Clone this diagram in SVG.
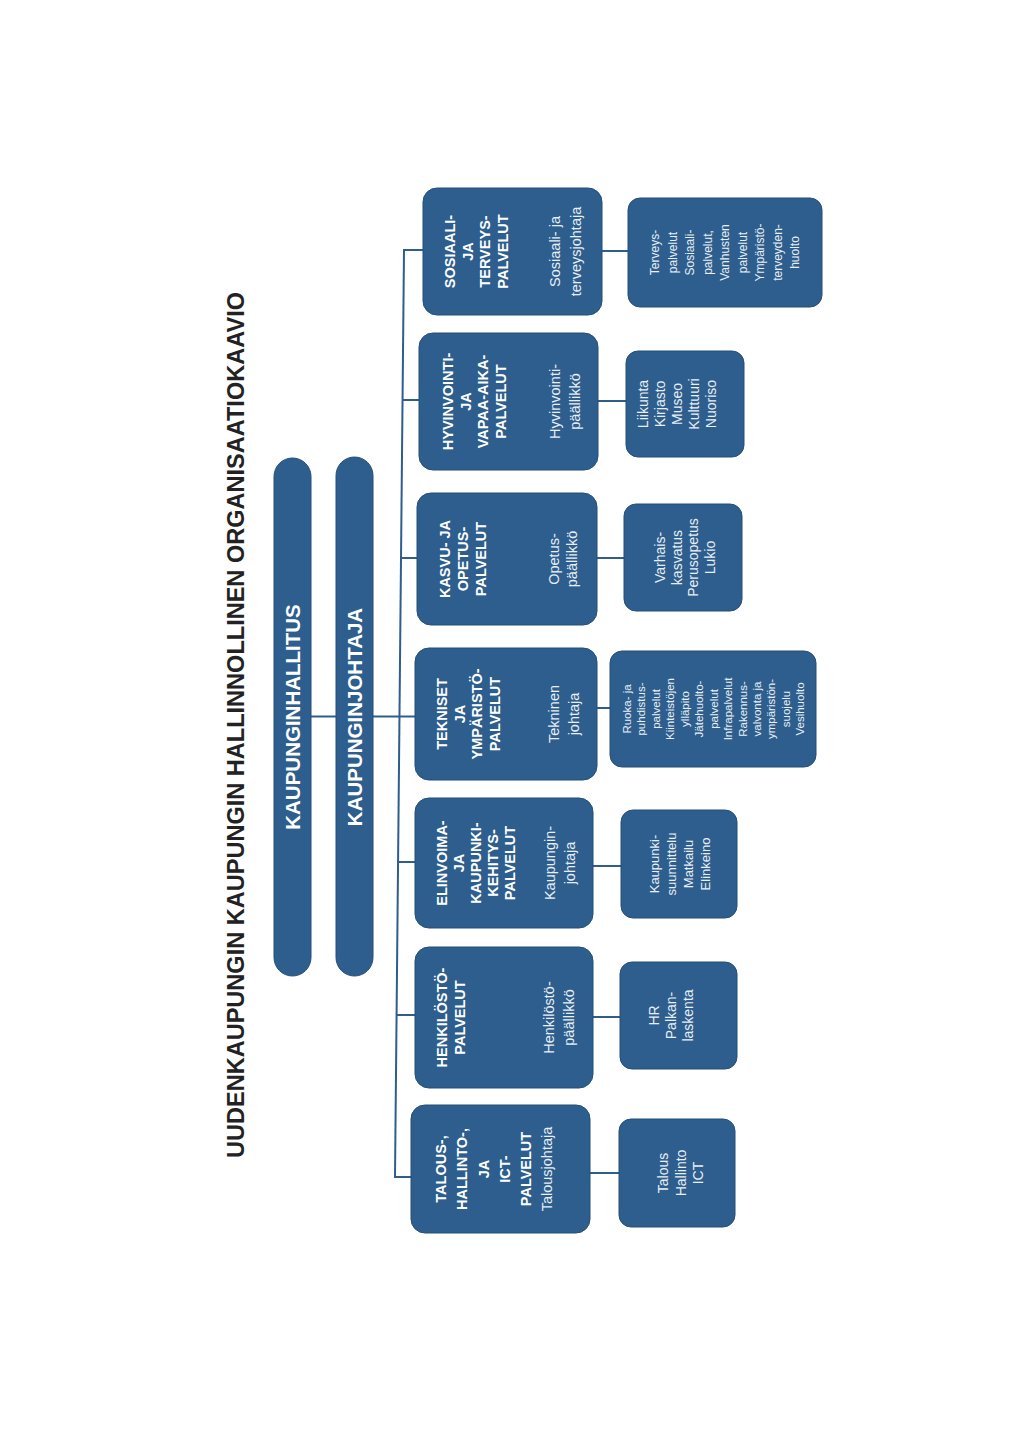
<svg xmlns="http://www.w3.org/2000/svg" width="1024" height="1448" viewBox="0 0 1024 1448">
<style>
.box{fill:#2d5e8e;stroke:#254f78;stroke-width:1}
.ln{stroke:#2d5e8e;stroke-width:2;fill:none}
.t{font-family:"Liberation Sans",Arial,sans-serif;text-anchor:middle}
.b{font-weight:bold;fill:#ffffff;font-size:14.5px}
.r{fill:#e9eef4;font-size:14.5px}
.bar{font-weight:bold;fill:#ffffff;font-size:20.5px}
.title{font-weight:bold;fill:#222222;font-size:23px}
</style>
<rect width="1024" height="1448" fill="#ffffff"/>
<g id="title">
<text class="t title" transform="translate(244,725) rotate(-90)" textLength="866" lengthAdjust="spacingAndGlyphs">UUDENKAUPUNGIN KAUPUNGIN HALLINNOLLINEN ORGANISAATIOKAAVIO</text>
</g>
<g id="connectors">
<line class="ln" x1="404" y1="250" x2="395" y2="1177"/>
<line class="ln" x1="403" y1="250" x2="423" y2="250"/>
<line class="ln" x1="402" y1="400" x2="419" y2="400"/>
<line class="ln" x1="400" y1="558" x2="417" y2="558"/>
<line class="ln" x1="311" y1="716.5" x2="415" y2="716.5"/>
<line class="ln" x1="397" y1="862" x2="415" y2="862"/>
<line class="ln" x1="396" y1="1015" x2="415" y2="1015"/>
<line class="ln" x1="394" y1="1177" x2="411" y2="1177"/>
<line class="ln" x1="602" y1="251" x2="628" y2="251"/>
<line class="ln" x1="598" y1="401" x2="626" y2="401"/>
<line class="ln" x1="597" y1="558" x2="624" y2="558"/>
<line class="ln" x1="597" y1="708" x2="610" y2="708"/>
<line class="ln" x1="593" y1="866" x2="621" y2="866"/>
<line class="ln" x1="593" y1="1017" x2="620" y2="1017"/>
<line class="ln" x1="590" y1="1173" x2="619" y2="1173"/>
</g>
<g id="kaupunginhallitus">
<rect class="box" x="274" y="458" width="37" height="518" rx="18.5"/>
<text class="t bar" transform="translate(300,717) rotate(-90)">KAUPUNGINHALLITUS</text>
</g>
<g id="kaupunginjohtaja">
<rect class="box" x="336" y="457" width="37" height="519" rx="18.5"/>
<text class="t bar" transform="translate(362,717) rotate(-90)">KAUPUNGINJOHTAJA</text>
</g>
<g id="sosiaali">
<rect class="box" x="423" y="188" width="179" height="127" rx="14"/>
<text class="t b" transform="translate(455,251.5) rotate(-90)"><tspan x="0" y="0">SOSIAALI-</tspan><tspan x="0" dy="17.5">JA</tspan><tspan x="0" dy="17.5">TERVEYS-</tspan><tspan x="0" dy="17.5">PALVELUT</tspan></text>
<text class="t r" transform="translate(560,251.5) rotate(-90)"><tspan x="0" y="0">Sosiaali- ja</tspan><tspan x="0" dy="21">terveysjohtaja</tspan></text>
</g>
<g id="hyvinvointi">
<rect class="box" x="419" y="333" width="179" height="137" rx="14"/>
<text class="t b" transform="translate(453,401.5) rotate(-90)"><tspan x="0" y="0">HYVINVOINTI-</tspan><tspan x="0" dy="17.5">JA</tspan><tspan x="0" dy="17.5">VAPAA-AIKA-</tspan><tspan x="0" dy="17.5">PALVELUT</tspan></text>
<text class="t r" transform="translate(560,401.5) rotate(-90)"><tspan x="0" y="0">Hyvinvointi-</tspan><tspan x="0" dy="20">päällikkö</tspan></text>
</g>
<g id="kasvu">
<rect class="box" x="417" y="493" width="180" height="132" rx="14"/>
<text class="t b" transform="translate(450,559) rotate(-90)"><tspan x="0" y="0">KASVU- JA</tspan><tspan x="0" dy="18">OPETUS-</tspan><tspan x="0" dy="18">PALVELUT</tspan></text>
<text class="t r" transform="translate(559,559) rotate(-90)"><tspan x="0" y="0">Opetus-</tspan><tspan x="0" dy="18">päällikkö</tspan></text>
</g>
<g id="tekniset">
<rect class="box" x="415" y="648" width="182" height="132" rx="14"/>
<text class="t b" transform="translate(447,714) rotate(-90)"><tspan x="0" y="0">TEKNISET</tspan><tspan x="0" dy="17.7">JA</tspan><tspan x="0" dy="17.7">YMPÄRISTÖ-</tspan><tspan x="0" dy="17.7">PALVELUT</tspan></text>
<text class="t r" transform="translate(559,714) rotate(-90)"><tspan x="0" y="0">Tekninen</tspan><tspan x="0" dy="20">johtaja</tspan></text>
</g>
<g id="elinvoima">
<rect class="box" x="415" y="798" width="178" height="130" rx="14"/>
<text class="t b" transform="translate(447,863) rotate(-90)"><tspan x="0" y="0">ELINVOIMA-</tspan><tspan x="0" dy="17">JA</tspan><tspan x="0" dy="17">KAUPUNKI-</tspan><tspan x="0" dy="17">KEHITYS-</tspan><tspan x="0" dy="17">PALVELUT</tspan></text>
<text class="t r" transform="translate(555,863) rotate(-90)"><tspan x="0" y="0">Kaupungin-</tspan><tspan x="0" dy="20">johtaja</tspan></text>
</g>
<g id="henkilosto">
<rect class="box" x="415" y="947" width="178" height="141" rx="14"/>
<text class="t b" transform="translate(447,1017.5) rotate(-90)"><tspan x="0" y="0">HENKILÖSTÖ-</tspan><tspan x="0" dy="18">PALVELUT</tspan></text>
<text class="t r" transform="translate(554,1017.5) rotate(-90)"><tspan x="0" y="0">Henkilöstö-</tspan><tspan x="0" dy="20">päällikkö</tspan></text>
</g>
<g id="talous">
<rect class="box" x="411" y="1105" width="179" height="128" rx="14"/>
<text class="t b" transform="translate(446,1169) rotate(-90)"><tspan x="0" y="0">TALOUS-,</tspan><tspan x="0" dy="21.3">HALLINTO-,</tspan><tspan x="0" dy="21.3">JA</tspan><tspan x="0" dy="21.3">ICT-</tspan><tspan x="0" dy="21.3">PALVELUT</tspan></text>
<text class="t r" transform="translate(552,1169) rotate(-90)">Talousjohtaja</text>
</g>
<g id="sosiaali-tehtavat">
<rect class="box" x="628" y="198" width="194" height="109" rx="12"/>
<text class="t r" style="font-size:12px" transform="translate(659,252.5) rotate(-90)"><tspan x="0" y="0">Terveys-</tspan><tspan x="0" dy="17.5">palvelut</tspan><tspan x="0" dy="17.5">Sosiaali-</tspan><tspan x="0" dy="17.5">palvelut,</tspan><tspan x="0" dy="17.5">Vanhusten</tspan><tspan x="0" dy="17.5">palvelut</tspan><tspan x="0" dy="17.5">Ympäristö-</tspan><tspan x="0" dy="17.5">terveyden-</tspan><tspan x="0" dy="17.5">huolto</tspan></text>
</g>
<g id="hyvinvointi-tehtavat">
<rect class="box" x="626" y="351" width="118" height="106" rx="12"/>
<text class="t r" style="font-size:14px" transform="translate(648,404) rotate(-90)"><tspan x="0" y="0">Liikunta</tspan><tspan x="0" dy="17">Kirjasto</tspan><tspan x="0" dy="17">Museo</tspan><tspan x="0" dy="17">Kulttuuri</tspan><tspan x="0" dy="17">Nuoriso</tspan></text>
</g>
<g id="kasvu-tehtavat">
<rect class="box" x="624" y="504" width="118" height="107" rx="12"/>
<text class="t r" style="font-size:14px" transform="translate(665,557.5) rotate(-90)"><tspan x="0" y="0">Varhais-</tspan><tspan x="0" dy="16.7">kasvatus</tspan><tspan x="0" dy="16.7">Perusopetus</tspan><tspan x="0" dy="16.7">Lukio</tspan></text>
</g>
<g id="tekniset-tehtavat">
<rect class="box" x="610" y="651" width="206" height="116" rx="12"/>
<text class="t r" style="font-size:11.5px" transform="translate(631,709) rotate(-90)"><tspan x="0" y="0">Ruoka- ja</tspan><tspan x="0" dy="14.45">puhdistus-</tspan><tspan x="0" dy="14.45">palvelut</tspan><tspan x="0" dy="14.45">Kiinteistöjen</tspan><tspan x="0" dy="14.45">ylläpito</tspan><tspan x="0" dy="14.45">Jätehuolto-</tspan><tspan x="0" dy="14.45">palvelut</tspan><tspan x="0" dy="14.45">Infrapalvelut</tspan><tspan x="0" dy="14.45">Rakennus-</tspan><tspan x="0" dy="14.45">valvonta ja</tspan><tspan x="0" dy="14.45">ympäristön-</tspan><tspan x="0" dy="14.45">suojelu</tspan><tspan x="0" dy="14.45">Vesihuolto</tspan></text>
</g>
<g id="elinvoima-tehtavat">
<rect class="box" x="621" y="810" width="116" height="108" rx="12"/>
<text class="t r" style="font-size:13px" transform="translate(659,864) rotate(-90)"><tspan x="0" y="0">Kaupunki-</tspan><tspan x="0" dy="17">suunnittelu</tspan><tspan x="0" dy="17">Matkailu</tspan><tspan x="0" dy="17">Elinkeino</tspan></text>
</g>
<g id="henkilosto-tehtavat">
<rect class="box" x="620" y="962" width="117" height="107" rx="12"/>
<text class="t r" style="font-size:14px" transform="translate(659,1015.5) rotate(-90)"><tspan x="0" y="0">HR</tspan><tspan x="0" dy="17">Palkan-</tspan><tspan x="0" dy="17">laskenta</tspan></text>
</g>
<g id="talous-tehtavat">
<rect class="box" x="619" y="1119" width="116" height="108" rx="12"/>
<text class="t r" style="font-size:14px" transform="translate(668,1173) rotate(-90)"><tspan x="0" y="0">Talous</tspan><tspan x="0" dy="17.5">Hallinto</tspan><tspan x="0" dy="17.5">ICT</tspan></text>
</g>
</svg>
